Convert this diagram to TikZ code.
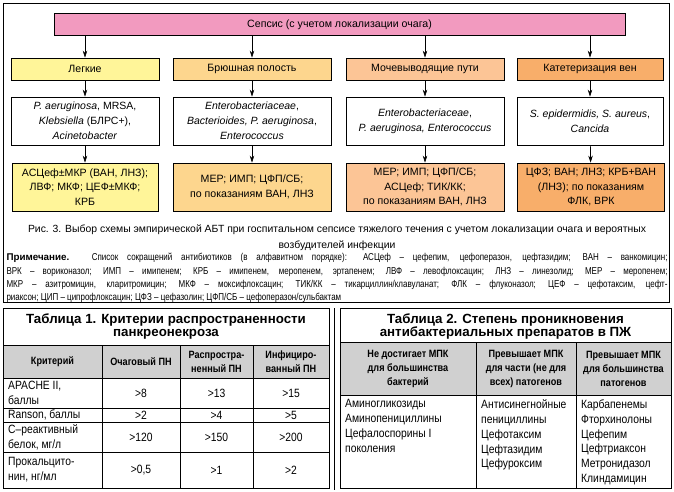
\documentclass[tikz,border=0pt]{standalone}
\usepackage{fontspec}
\setmainfont{Liberation Sans}
\newfontfamily\narrowfont[FakeStretch=0.86]{Liberation Sans}
\newfontfamily\notefont[FakeStretch=0.8]{Liberation Sans}
\usetikzlibrary{arrows.meta, positioning}
\tolerance=10000

\definecolor{sepsispink}{RGB}{242,154,191}
\definecolor{lungyellow}{RGB}{255,245,153}
\definecolor{abdorange}{RGB}{253,214,142}
\definecolor{urinepeach}{RGB}{252,197,150}
\definecolor{catheterorange}{RGB}{248,174,106}
\definecolor{headgray}{RGB}{208,208,208}

\begin{document}
\begin{tikzpicture}[x=1pt, y=-1pt,
    frame/.style={draw=black, line width=0.9pt},
    rule/.style={line width=0.6pt},
    box/.style={rectangle, draw=black, line width=0.7pt, inner sep=0pt, align=center},
    catbox/.style={box, minimum height=22pt, font=\fontsize{10.6}{11}\selectfont},
    bugbox/.style={box, fill=white, minimum height=48pt, font=\fontsize{10.5}{14.8}\selectfont},
    drugbox/.style={box, minimum height=48pt, font=\fontsize{10.6}{14.5}\selectfont},
    arrow/.style={line width=0.7pt, -{Stealth[length=7pt, width=4.5pt]}},
    tabtitle/.style={align=center, font=\fontsize{13.3}{13}\bfseries},
    tabhead/.style={align=center, font=\narrowfont\fontsize{10.6}{14}\bfseries},
    tabcell/.style={align=left, font=\narrowfont\fontsize{12}{14.8}\selectfont}
]
\useasboundingbox (0,0) rectangle (674,492);

% Flowchart frame
\draw[frame] (3,3) rectangle (669,302);

% Sepsis
\node[catbox, fill=sepsispink, minimum width=571pt] (sepsis) at (339.5,24.5) {Сепсис (с учетом локализации очага)};

% Localisation of the focus
\node[catbox, fill=lungyellow, minimum width=148pt] (lung) at (85,69) {Легкие};
\node[catbox, fill=abdorange, minimum width=158pt] (abdomen) at (252,69) {Брюшная полость};
\node[catbox, fill=urinepeach, minimum width=158pt] (urine) at (425,69) {Мочевыводящие пути};
\node[catbox, fill=catheterorange, minimum width=146pt] (catheter) at (590,69) {Катетеризация вен};

% Probable pathogens
\node[bugbox, minimum width=148pt] (lung_bugs) at (85,121) {\textit{P. aeruginosa}, MRSA,\\\textit{Klebsiella} (БЛРС+),\\\textit{Acinetobacter}};
\node[bugbox, minimum width=158pt] (abdomen_bugs) at (252,121) {\textit{Enterobacteriaceae},\\\textit{Bacterioides, P. aeruginosa},\\\textit{Enterococcus}};
\node[bugbox, minimum width=158pt] (urine_bugs) at (425,121) {\textit{Enterobacteriaceae},\\\textit{P. aeruginosa, Enterococcus}};
\node[bugbox, minimum width=146pt] (catheter_bugs) at (590,121) {\textit{S. epidermidis, S. aureus},\\\textit{Cancida}};

% Antibiotic schemes
\node[drugbox, fill=lungyellow, minimum width=146pt] (lung_abt) at (85,187) {АСЦеф±МКР (ВАН, ЛНЗ);\\ЛВФ; МКФ; ЦЕФ±МКФ;\\КРБ};
\node[drugbox, fill=abdorange, minimum width=158pt] (abdomen_abt) at (252,187) {МЕР; ИМП; ЦФП/СБ;\\по показаниям ВАН, ЛНЗ};
\node[drugbox, fill=urinepeach, minimum width=158pt] (urine_abt) at (425,187) {МЕР; ИМП; ЦФП/СБ;\\АСЦеф; ТИК/КК;\\по показаниям ВАН, ЛНЗ};
\node[drugbox, fill=catheterorange, minimum width=147pt] (catheter_abt) at (591,187) {ЦФЗ; ВАН; ЛНЗ; КРБ+ВАН\\(ЛНЗ); по показаниям\\ФЛК, ВРК};

% Connections
\draw[arrow] (lung |- sepsis.south) -- (lung);
\draw[arrow] (abdomen |- sepsis.south) -- (abdomen);
\draw[arrow] (urine |- sepsis.south) -- (urine);
\draw[arrow] (catheter |- sepsis.south) -- (catheter);
\draw[arrow] (lung) -- (lung_bugs);
\draw[arrow] (abdomen) -- (abdomen_bugs);
\draw[arrow] (urine) -- (urine_bugs);
\draw[arrow] (catheter) -- (catheter_bugs);
\draw[arrow] (lung_bugs) -- (lung_abt);
\draw[arrow] (abdomen_bugs) -- (abdomen_abt);
\draw[arrow] (urine_bugs) -- (urine_abt);
\draw[arrow] (catheter_bugs) -- (catheter_abt);

% Caption and note
\node[align=center, font=\fontsize{10.4}{16}\selectfont] (caption) at (337,237.5) {Рис. 3. Выбор схемы эмпирической АБТ при госпитальном сепсисе тяжелого течения с учетом локализации очага и вероятных\\возбудителей инфекции};
\node[text width=661pt, align=justify, inner sep=0pt, font=\notefont\fontsize{10}{13.3}\selectfont] (note) at (337,278) {{\rmfamily\bfseries\fontsize{9.8}{13.3}\selectfont Примечание.} Список сокращений антибиотиков (в алфавитном порядке): АСЦеф – цефепим, цефоперазон, цефтазидим; ВАН – ванкомицин;\linebreak ВРК – вориконазол; ИМП – имипенем; КРБ – имипенем, меропенем, эртапенем; ЛВФ – левофлоксацин; ЛНЗ – линезолид; МЕР – меропенем;\linebreak МКР – азитромицин, кларитромицин; МКФ – моксифлоксацин; ТИК/КК – тикарциллин/клавуланат; ФЛК – флуконазол; ЦЕФ – цефотаксим, цефт-\linebreak риаксон; ЦИП – ципрофлоксацин; ЦФЗ – цефазолин; ЦФП/СБ – цефоперазон/сульбактам};

% Table 1
\fill[headgray] (3,345) rectangle (329,378);
\draw[rule] (3,345) -- (329,345);
\draw[rule] (3,378) -- (329,378);
\draw[rule] (3,408) -- (329,408);
\draw[rule] (3,422) -- (329,422);
\draw[rule] (3,452) -- (329,452);
\draw[rule] (102,345) -- (102,488);
\draw[rule] (180,345) -- (180,488);
\draw[rule] (253,345) -- (253,488);
\draw[frame] (3,308) rectangle (329,488);
\node[tabtitle] (t1_title) at (166,326) {Таблица 1. Критерии распространенности\\панкреонекроза};
\node[tabhead] (t1_crit) at (52.5,361.5) {Критерий};
\node[tabhead] (t1_focal) at (141,361.5) {Очаговый ПН};
\node[tabhead] (t1_spread) at (216.5,361.5) {Распростра-\\ненный ПН};
\node[tabhead] (t1_infect) at (291,361.5) {Инфициро-\\ванный ПН};
\node[tabcell, anchor=west, inner sep=0pt] (apache) at (8,393) {APACHE II,\\баллы};
\node[tabcell] (apache_a) at (141,393) {>8};
\node[tabcell] (apache_b) at (216.5,393) {>13};
\node[tabcell] (apache_c) at (291,393) {>15};
\node[tabcell, anchor=west, inner sep=0pt] (ranson) at (8,415) {Ranson, баллы};
\node[tabcell] (ranson_a) at (141,415) {>2};
\node[tabcell] (ranson_b) at (216.5,415) {>4};
\node[tabcell] (ranson_c) at (291,415) {>5};
\node[tabcell, anchor=west, inner sep=0pt] (crp) at (8,437) {С–реактивный\\белок, мг/л};
\node[tabcell] (crp_a) at (141,437) {>120};
\node[tabcell] (crp_b) at (216.5,437) {>150};
\node[tabcell] (crp_c) at (291,437) {>200};
\node[tabcell, anchor=west, inner sep=0pt] (pct) at (8,470) {Прокальцито-\\нин, нг/мл};
\node[tabcell] (pct_a) at (141,470) {>0,5};
\node[tabcell] (pct_b) at (216.5,470) {>1};
\node[tabcell] (pct_c) at (291,470) {>2};

% Column rule between the tables
\draw[rule] (334,308) -- (334,490);

% Table 2
\fill[headgray] (340,342) rectangle (671,395);
\draw[rule] (340,342) -- (671,342);
\draw[rule] (340,395) -- (671,395);
\draw[rule] (476,342) -- (476,488);
\draw[rule] (576,342) -- (576,488);
\draw[frame] (340,308) rectangle (671,488);
\node[tabtitle] (t2_title) at (505.5,326) {Таблица 2. Степень проникновения\\антибактериальных препаратов в ПЖ};
\node[tabhead] (t2_low) at (408,369) {Не достигает МПК\\для большинства\\бактерий};
\node[tabhead] (t2_part) at (526,369) {Превышает МПК\\для части (не для\\всех) патогенов};
\node[tabhead] (t2_high) at (623.5,369) {Превышает МПК\\для большинства\\патогенов};
\node[tabcell, anchor=north west, inner sep=0pt] (t2_low_list) at (345,399.5) {Аминогликозиды\\Аминопенициллины\\Цефалоспорины I\\поколения};
\node[tabcell, anchor=north west, inner sep=0pt] (t2_part_list) at (481,399.5) {Антисинегнойные\\пенициллины\\Цефотаксим\\Цефтазидим\\Цефуроксим};
\node[tabcell, anchor=north west, inner sep=0pt] (t2_high_list) at (581,399.5) {Карбапенемы\\Фторхинолоны\\Цефепим\\Цефтриаксон\\Метронидазол\\Клиндамицин};

\end{tikzpicture}
\end{document}
